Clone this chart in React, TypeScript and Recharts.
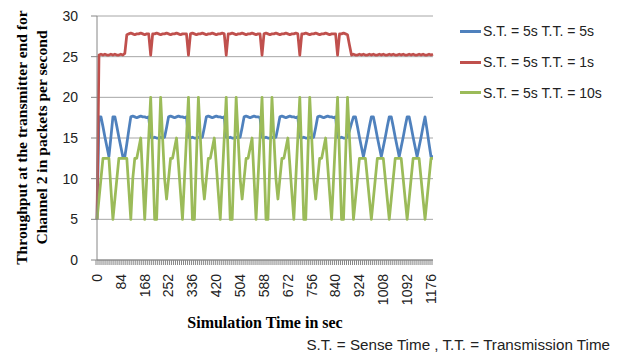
import { LineChart, Line, XAxis, YAxis, CartesianGrid, Legend } from 'recharts';

// simulation sampled every 7 s
const STEP = 7;
const TIME = Array.from({ length: 170 }, (_, i) => i * STEP);
const X_LABELS = [0, 84, 168, 252, 336, 420, 504, 588, 672, 756, 840, 924, 1008, 1092, 1176];
const Y_TICKS = [0, 5, 10, 15, 20, 25, 30];

// S.T. = 5s T.T. = 5s
const BLUE = [
  5, 17.6, 17.6, 16.4, 15.1, 13.9, 12.7, 15.1, 17.6, 17.6, 16.4, 15.1, 13.9, 12.7, 12.7, 14.3, 16.0,
  17.6, 17.7, 17.6, 17.5, 17.6, 17.7, 17.6, 17.6, 17.5, 17.6,
  15.1, 15.0, 15.1, 15.0, 15.0, 15.1, 15.0, 15.1, 16.3, 17.6, 17.7, 17.6, 17.5, 17.6, 17.7, 17.6, 17.6, 17.5, 17.6,
  15.1, 15.0, 15.1, 15.0, 15.0, 15.1, 15.0, 15.1, 16.3, 17.6, 17.7, 17.6, 17.5, 17.6, 17.7, 17.6, 17.6, 17.5, 17.6,
  15.1, 15.0, 15.1, 15.0, 15.0, 15.1, 15.0, 15.1, 16.3, 17.6, 17.7, 17.6, 17.5, 17.6, 17.7, 17.6, 17.6, 17.5,
  15.1, 15.0, 15.1, 15.0, 15.0, 15.1, 15.0, 15.1, 16.3, 17.6, 17.7, 17.6, 17.5, 17.6, 17.7, 17.6, 17.6, 17.5, 17.6,
  15.1, 15.0, 15.1, 15.0, 15.0, 15.1, 15.0, 15.1, 16.3, 17.6, 17.7, 17.6, 17.5, 17.6, 17.7, 17.6, 17.6, 17.5, 17.6,
  15.1, 15.0, 15.1, 15.0, 15.0, 15.1, 15.9, 16.8, 17.6, 17.6,
  16.4, 15.1, 13.9, 12.7, 13.9, 15.1, 16.4, 17.6, 17.6,
  16.4, 15.1, 13.9, 12.7, 13.9, 15.1, 16.4, 17.6, 17.6,
  16.4, 15.1, 13.9, 12.7, 13.9, 15.1, 16.4, 17.6, 17.6,
  16.4, 15.1, 13.9, 12.7, 13.9, 15.1, 16.4, 17.6, 16.0, 14.3, 12.7, 12.7,
];

// S.T. = 5s T.T. = 1s
const RED = [
  5, 25.2, 25.3, 25.2, 25.3, 25.2, 25.2, 25.3, 25.2, 25.3, 25.2, 25.2, 25.3, 25.2, 25.4,
  27.7, 27.8, 27.9, 27.8, 27.7, 27.8, 27.8, 27.9, 27.8, 27.7, 27.8, 27.8,
  25.2, 27.8, 27.8, 27.9, 27.8, 27.7, 27.8, 27.8, 27.9, 27.8, 27.7, 27.8, 27.8, 27.9, 27.8, 27.7, 27.8, 27.8, 27.8,
  25.2, 27.8, 27.9, 27.8, 27.7, 27.8, 27.8, 27.9, 27.8, 27.7, 27.8, 27.8, 27.9, 27.8, 27.7, 27.8, 27.8, 27.9, 27.8,
  25.2, 27.8, 27.8, 27.9, 27.8, 27.7, 27.8, 27.8, 27.9, 27.8, 27.7, 27.8, 27.8, 27.9, 27.8, 27.7, 27.8, 27.8,
  25.2, 27.8, 27.9, 27.8, 27.7, 27.8, 27.8, 27.9, 27.8, 27.7, 27.8, 27.8, 27.9, 27.8, 27.7, 27.8, 27.8, 27.9, 27.8,
  25.2, 27.8, 27.8, 27.9, 27.8, 27.7, 27.8, 27.8, 27.9, 27.8, 27.7, 27.8, 27.8, 27.9, 27.8, 27.7, 27.8, 27.8, 27.8,
  25.2, 27.8, 27.8, 27.9, 27.8, 27.7, 26.4,
  25.2, 25.3, 25.2, 25.2, 25.3, 25.2, 25.3, 25.2, 25.2, 25.3,
  25.2, 25.3, 25.2, 25.2, 25.3, 25.2, 25.3, 25.2, 25.2, 25.3,
  25.2, 25.3, 25.2, 25.2, 25.3, 25.2, 25.3, 25.2, 25.2, 25.3,
  25.2, 25.3, 25.2, 25.2, 25.3, 25.2, 25.3, 25.2, 25.2, 25.3, 25.2, 25.3,
];

// S.T. = 5s T.T. = 10s
const GREEN = [
  5, 7.5, 10, 12.5, 12.5, 12.5, 12.5, 8.75, 5, 7.5, 10, 12.5, 12.5, 12.5, 12.5, 12.5, 8.75, 5, 10, 12.5, 12.5, 13.75, 15, 10, 5, 10, 15,
  20, 12.5, 5, 5, 12.5, 20, 15, 10, 7.5, 10, 12.5, 12.5, 13.75, 15, 11.7, 8.3, 5, 10, 15,
  20, 12.5, 5, 5, 12.5, 20, 15, 10, 7.5, 10, 12.5, 12.5, 13.75, 15, 11.7, 8.3, 5, 10, 15,
  20, 12.5, 5, 5, 12.5, 20, 15, 10, 7.5, 10, 12.5, 12.5, 13.75, 15, 10, 5, 10, 15,
  20, 12.5, 5, 5, 12.5, 20, 15, 10, 7.5, 10, 12.5, 12.5, 13.75, 15, 11.7, 8.3, 5, 10, 15,
  20, 12.5, 5, 5, 12.5, 20, 15, 10, 7.5, 10, 12.5, 12.5, 13.75, 15, 11.7, 8.3, 5, 10, 15,
  20, 12.5, 5, 5, 12.5, 20, 15, 10, 5, 7.5, 10,
  12.5, 12.5, 12.5, 12.5, 10, 7.5, 5, 7.5, 10,
  12.5, 12.5, 12.5, 12.5, 10, 7.5, 5, 7.5, 10,
  12.5, 12.5, 12.5, 12.5, 10, 7.5, 5, 7.5, 10,
  12.5, 12.5, 12.5, 12.5, 10, 7.5, 5, 7.5, 10, 12.5, 12.5,
];

const SERIES = [
  { key: 'a', name: 'S.T. = 5s T.T. = 5s', color: '#4F81BD' },
  { key: 'b', name: 'S.T. = 5s T.T. = 1s', color: '#C0504D' },
  { key: 'c', name: 'S.T. = 5s T.T. = 10s', color: '#9BBB59' },
];

const data = TIME.map((t, i) => ({ t, a: BLUE[i], b: RED[i], c: GREEN[i] }));

const SANS = '"Liberation Sans", Arial, sans-serif';
const SERIF = '"Liberation Serif", "Times New Roman", serif';
const AXIS = '#868686';
const PLOT_W = 336;
const BAND = PLOT_W / TIME.length;

const XTick = (props: any) => {
  const { x, y, payload } = props;
  const labelled = X_LABELS.includes(payload.value);
  return (
    <g>
      <line x1={x - BAND / 2} x2={x - BAND / 2} y1={y - 17} y2={y - 12} stroke={AXIS} strokeWidth={1} />
      {labelled && (
        <text
          transform={`translate(${x},${y - 3}) rotate(-90)`}
          textAnchor="end"
          dy="0.35em"
          fontSize={14}
          fontFamily={SANS}
          fill="#222"
        >
          {payload.value}
        </text>
      )}
    </g>
  );
};

const LegendBox = () => (
  <div style={{ fontFamily: SANS, fontSize: 14, color: '#222' }}>
    {SERIES.map((s) => (
      <div key={s.key} style={{ height: 30.7, display: 'flex', alignItems: 'center', whiteSpace: 'nowrap' }}>
        <span style={{ display: 'inline-block', width: 21, height: 3, background: s.color, marginRight: 2 }} />
        {s.name}
      </div>
    ))}
  </div>
);

export default function App() {
  return (
    <div style={{ position: 'absolute', left: 0, top: 0, width: 622, height: 356, background: '#fff' }}>
      <LineChart width={622} height={356} data={data} margin={{ top: 16, right: 189, left: 0, bottom: 0 }}>
        <CartesianGrid vertical={false} stroke="#a6a6a6" />
        <XAxis
          dataKey="t"
          interval={0}
          height={96}
          tick={<XTick />}
          tickLine={false}
          tickSize={5}
          tickMargin={12}
          axisLine={{ stroke: AXIS }}
        />
        <YAxis
          width={97}
          domain={[0, 30]}
          ticks={Y_TICKS}
          interval={0}
          tickSize={6}
          tickMargin={13}
          tick={{ fontSize: 14, fontFamily: SANS, fill: '#222' }}
          axisLine={{ stroke: AXIS }}
          tickLine={{ stroke: AXIS }}
        />
        <Legend
          layout="vertical"
          align="center"
          verticalAlign="middle"
          wrapperStyle={{ left: 460, top: 16, width: 162 }}
          content={() => <LegendBox />}
        />
        {SERIES.map((s) => (
          <Line
            key={s.key}
            type="linear"
            dataKey={s.key}
            name={s.name}
            stroke={s.color}
            strokeWidth={2.75}
            strokeLinejoin="round"
            dot={false}
            activeDot={false}
            isAnimationActive={false}
          />
        ))}
      </LineChart>
      <svg width={622} height={356} style={{ position: 'absolute', left: 0, top: 0, pointerEvents: 'none' }}>
        <g fontFamily={SERIF} fontWeight="bold" fontSize={15.6} fill="#000">
          <text transform="translate(21.5,137.5) rotate(-90)" textAnchor="middle" dy="0.35em">
            Throughput at the transmitter end for
          </text>
          <text transform="translate(41.5,137.5) rotate(-90)" textAnchor="middle" dy="0.35em">
            Channel 2 in packets per second
          </text>
          <text x={265} y={328} textAnchor="middle" fontSize={16}>
            Simulation Time in sec
          </text>
        </g>
        <text x={610} y={350} textAnchor="end" fontFamily={SANS} fontSize={15.2} fill="#222">
          S.T. = Sense Time , T.T. = Transmission Time
        </text>
      </svg>
    </div>
  );
}
